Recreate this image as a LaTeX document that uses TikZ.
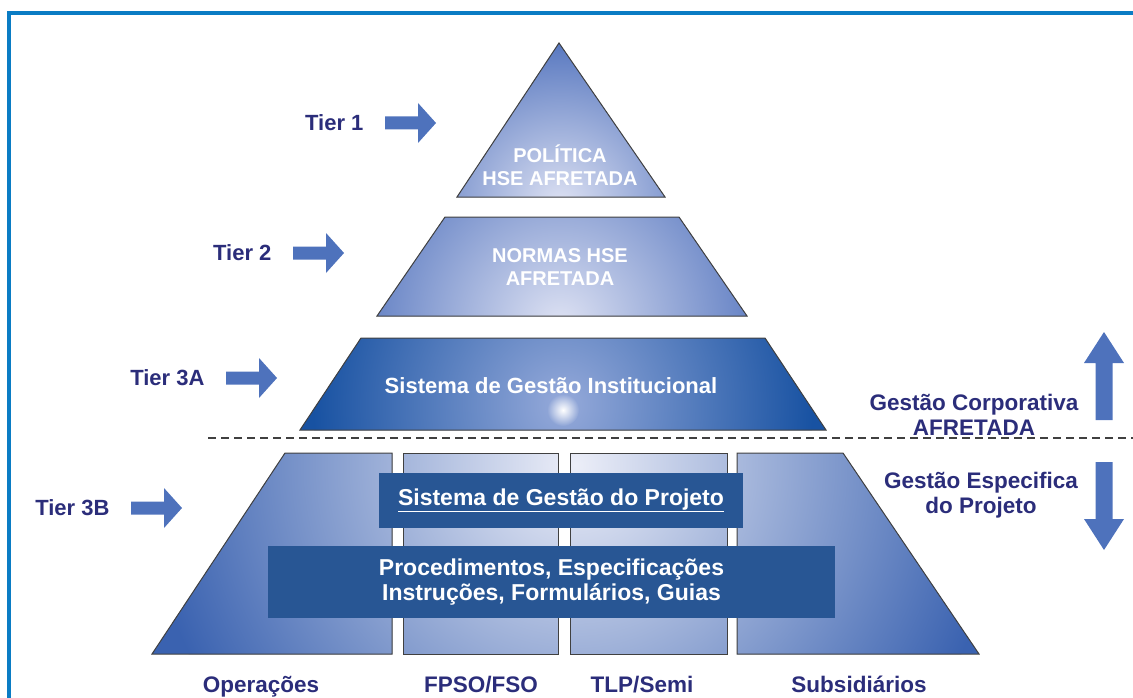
\documentclass[tikz,border=0pt]{standalone}
\usepackage{fontspec}
\setsansfont{Liberation Sans}
\usepackage{xcolor}
\definecolor{frameblue}{RGB}{10,124,196}
\definecolor{tiernavy}{RGB}{43,45,122}
\definecolor{arrowblue}{RGB}{78,114,188}
\definecolor{pyrblue}{RGB}{78,112,188}
\definecolor{pyrlight}{RGB}{222,226,243}
\definecolor{instblue}{RGB}{24,82,162}
\definecolor{instlight}{RGB}{150,170,218}
\definecolor{projblue}{RGB}{58,98,176}
\definecolor{projlight}{RGB}{236,238,248}
\definecolor{boxblue}{RGB}{40,86,148}
\tikzset{every picture/.style={/utils/exec={\sffamily\bfseries}}}
\usetikzlibrary{positioning}
\usetikzlibrary{fadings}
\tikzfading[name=glowfade, inner color=transparent!0, outer color=transparent!100]

\begin{document}
\begin{tikzpicture}[x=1pt, y=-1pt,
    tier/.style={text=tiernavy, font=\fontsize{22.5}{25}\selectfont, align=center},
    inner/.style={text=white, font=\fontsize{20}{23}\selectfont, align=center},
    layer/.style={draw=black!75, line width=1pt},
    projbox/.style={fill=boxblue, text=white, font=\fontsize{23}{25}\selectfont, align=center, inner sep=0pt},
    tierarrow/.pic={\fill[arrowblue] (0,-6.5) -- (33,-6.5) -- (33,-20) -- (51,0) -- (33,20) -- (33,6.5) -- (0,6.5) -- cycle;},
    flowarrow/.pic={\fill[arrowblue] (-8.5,0) -- (-8.5,-57) -- (-20,-57) -- (0,-88) -- (20,-57) -- (8.5,-57) -- (8.5,0) -- cycle;}]

  \useasboundingbox (0,0) rectangle (1133,698);
  \draw [frameblue, line width=3.5pt] (9,698) -- (9,13) -- (1133,13);

  % Tier 1:
  \begin{scope}
    \clip (559,43) -- (665,197) -- (457,197) -- cycle;
    \fill [pyrblue] (440,30) rectangle (680,200);
    \shade [inner color=pyrlight, outer color=pyrblue] (560,205) circle (175);
  \end{scope}
  \draw [layer] (559,43) -- (665,197) -- (457,197) -- cycle;
  \node [inner] (pol) at (560,165) {POLÍTICA\\HSE AFRETADA};

  % Tier 2:
  \begin{scope}
    \clip (445,217) -- (679,217) -- (747,316) -- (377,316) -- cycle;
    \fill [pyrblue] (370,210) rectangle (750,320);
    \shade [inner color=pyrlight, outer color=pyrblue] (560,325) circle (230);
  \end{scope}
  \draw [layer] (445,217) -- (679,217) -- (747,316) -- (377,316) -- cycle;
  \node [inner] (norm) at (560,267) {NORMAS HSE\\AFRETADA};

  % Tier 3A:
  \begin{scope}
    \clip (361,338) -- (765,338) -- (826,430) -- (300,430) -- cycle;
    \fill [instblue] (295,335) rectangle (830,435);
    \shade [inner color=instlight, outer color=instblue] (563,405) circle (250);
    \fill [white, path fading=glowfade] (563,410) circle (16);
  \end{scope}
  \draw [layer] (361,338) -- (765,338) -- (826,430) -- (300,430) -- cycle;
  \node [inner, font=\fontsize{22}{24}\selectfont] (inst) at (551,386) {Sistema de Gestão Institucional};

  \draw [black!75, line width=2pt, dash pattern=on 8pt off 5pt] (208,438) -- (1133,438);

  % Tier 3B:
  \begin{scope}
    \clip (285,453) -- (392,453) -- (392,654) -- (152,654) -- cycle
          (403,453) -- (558,453) -- (558,654) -- (403,654) -- cycle
          (570,453) -- (727,453) -- (727,654) -- (570,654) -- cycle
          (737,453) -- (843,453) -- (979,654) -- (737,654) -- cycle;
    \fill [projblue] (150,450) rectangle (980,656);
    \shade [inner color=projlight, outer color=projblue] (575,465) circle (430);
  \end{scope}
  \draw [layer] (285,453) -- (392,453) -- (392,654) -- (152,654) -- cycle;
  \draw [layer] (403,453) -- (558,453) -- (558,654) -- (403,654) -- cycle;
  \draw [layer] (570,453) -- (727,453) -- (727,654) -- (570,654) -- cycle;
  \draw [layer] (737,453) -- (843,453) -- (979,654) -- (737,654) -- cycle;

  \node [projbox, minimum width=364pt, minimum height=55pt] (sgp) at (561,500.5) {\underline{Sistema de Gestão do Projeto}};
  \node [projbox, minimum width=567pt, minimum height=72pt] (proc) at (551.5,582) {Procedimentos, Especificações\\Instruções, Formulários, Guias};

  \node [tier, inner sep=0pt, anchor=base] (op) at (261,692) {Operações};
  \node [tier, inner sep=0pt, anchor=base] (fpso) at (481,692) {FPSO/FSO};
  \node [tier, inner sep=0pt, anchor=base] (tlp) at (642,692) {TLP/Semi};
  \node [tier, inner sep=0pt, anchor=base] (subs) at (859,692) {Subsidiários};

  % tier arrows:
  \coordinate (t1) at (385,123);
  \coordinate (t2) at (293,253);
  \coordinate (t3a) at (226,378);
  \coordinate (t3b) at (131,508);
  \pic at (t1) {tierarrow};
  \pic at (t2) {tierarrow};
  \pic at (t3a) {tierarrow};
  \pic at (t3b) {tierarrow};
  \node [tier, font=\fontsize{22}{25}\selectfont, left=18pt of t1] (l1) {Tier 1};
  \node [tier, font=\fontsize{22}{25}\selectfont, left=18pt of t2] (l2) {Tier 2};
  \node [tier, font=\fontsize{22}{25}\selectfont, left=18pt of t3a] (l3a) {Tier 3A};
  \node [tier, font=\fontsize{22}{25}\selectfont, left=18pt of t3b] (l3b) {Tier 3B};

  % right side:
  \node [tier] (corp) at (974,415) {Gestão Corporativa\\AFRETADA};
  \node [tier] (espec) at (981,495) {Gestão Especifica\\do Projeto};
  \pic at (1104,420) {flowarrow};
  \pic [rotate=180] at (1104,462) {flowarrow};

\end{tikzpicture}
\end{document}
